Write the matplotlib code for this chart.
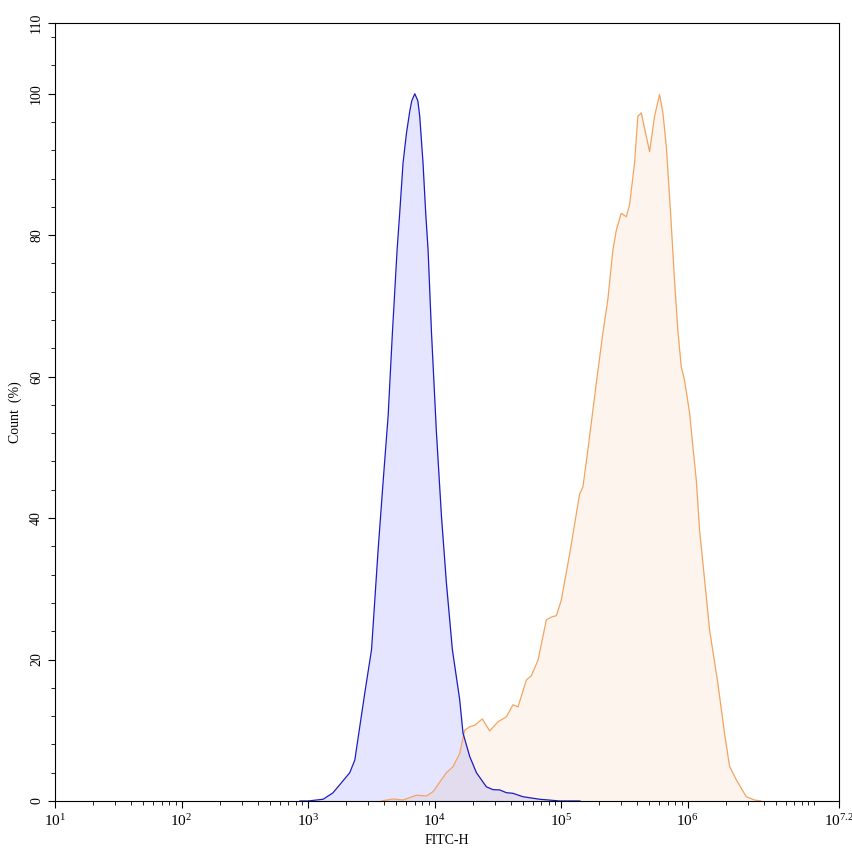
import numpy as np
import matplotlib
matplotlib.use("Agg")
import matplotlib.pyplot as plt
from matplotlib.ticker import FixedLocator, FixedFormatter, MultipleLocator

plt.rcParams['font.family'] = ['Liberation Serif', 'DejaVu Serif']
plt.rcParams['mathtext.fontset'] = 'custom'
plt.rcParams['mathtext.rm'] = 'Liberation Serif'
plt.rcParams['mathtext.it'] = 'Liberation Serif:italic'
plt.rcParams['mathtext.bf'] = 'Liberation Serif:bold'

# control histogram (blue), log10 of FITC-H and count (%)
blue_logx = [2.935, 3.001, 3.119, 3.196, 3.265, 3.330, 3.370, 3.409, 3.449, 3.502,
             3.554, 3.593, 3.633, 3.667, 3.704, 3.725, 3.751, 3.778, 3.804, 3.820,
             3.844, 3.868, 3.883, 3.909, 3.930, 3.949, 3.976, 4.015, 4.055, 4.094,
             4.141, 4.199, 4.225, 4.278, 4.331, 4.410, 4.462, 4.515, 4.568, 4.620,
             4.699, 4.831, 4.989, 5.15]
blue_count = [0, 0, 0.24, 1.13, 2.6, 4.0, 5.8, 10.5, 15.3, 21.4,
              35.5, 45.0, 54.4, 66.2, 77.9, 83.2, 90.2, 94.4, 97.5, 99.0,
              100, 99.0, 96.8, 90.2, 83.2, 77.9, 66.2, 52.1, 40.2, 30.8,
              21.4, 14.3, 9.6, 6.3, 4.0, 2.0, 1.6, 1.56, 1.17, 1.08,
              0.6, 0.24, 0, 0]

# stained sample (orange)
orange_logx = [3.581, 3.672, 3.751, 3.857, 3.936, 3.988, 4.094, 4.146, 4.199, 4.238,
               4.278, 4.318, 4.378, 4.436, 4.502, 4.568, 4.620, 4.660, 4.726, 4.765,
               4.818, 4.884, 4.923, 4.963, 5.002, 5.068, 5.147, 5.173, 5.212, 5.279,
               5.331, 5.370, 5.410, 5.437, 5.476, 5.516, 5.542, 5.581, 5.607, 5.634,
               5.700, 5.739, 5.779, 5.805, 5.832, 5.866, 5.897, 5.923, 5.950, 5.976,
               6.016, 6.042, 6.069, 6.095, 6.121, 6.148, 6.174, 6.239, 6.292, 6.332,
               6.385, 6.464, 6.529, 6.582]
orange_count = [0, 0.28, 0.14, 0.81, 0.71, 1.31, 4.0, 4.85, 6.7, 10.0,
                10.5, 10.7, 11.6, 9.9, 11.2, 11.9, 13.6, 13.3, 17.1, 17.7,
                19.9, 25.6, 26.0, 26.2, 28.4, 34.9, 43.4, 44.4, 49.6, 59.1,
                66.2, 70.9, 77.9, 80.7, 83.1, 82.6, 84.3, 90.2, 96.8, 97.3,
                91.8, 96.8, 99.9, 97.3, 92.6, 83.1, 73.6, 66.6, 61.4, 59.5,
                54.9, 50.1, 45.4, 38.3, 33.7, 28.9, 24.2, 16.7, 9.6, 4.9,
                3.0, 0.6, 0.14, 0]

x_major = [1, 2, 3, 4, 5, 6, 7.2]
x_labels = [r'$10^{1}$', r'$10^{2}$', r'$10^{3}$', r'$10^{4}$', r'$10^{5}$', r'$10^{6}$', r'$10^{7.2}$']
y_major = [0, 20, 40, 60, 80, 100, 110]

fig = plt.figure(figsize=(8.53, 8.56), dpi=100)
ax = fig.add_axes([0.0645, 0.0643, 0.9195, 0.9088])

bx = np.power(10.0, blue_logx)
ox = np.power(10.0, orange_logx)

ax.fill_between(ox, orange_count, 0, color='#f5a050', alpha=0.1, lw=0)
ax.fill_between(bx, blue_count, 0, color='#0000ff', alpha=0.1, lw=0)
ax.plot(ox, orange_count, color='#f2a461', lw=0.9)
ax.plot(bx, blue_count, color='#1c1cc0', lw=0.9)

ax.set_xscale('log')
ax.set_xlim(10, 10 ** 7.2)
ax.set_ylim(0, 110)

ax.xaxis.set_major_locator(FixedLocator([10 ** v for v in x_major]))
ax.xaxis.set_major_formatter(FixedFormatter(x_labels))
minor = [m * 10 ** d for d in range(1, 7) for m in range(2, 10)] + [1e7]
ax.xaxis.set_minor_locator(FixedLocator(minor))
ax.xaxis.set_minor_formatter(FixedFormatter([''] * len(minor)))

ax.yaxis.set_major_locator(FixedLocator(y_major))
ax.yaxis.set_minor_locator(MultipleLocator(4))

ax.tick_params(axis='x', which='major', direction='out', length=5, width=0.8,
               labelsize=11, top=False)
ax.tick_params(axis='y', which='major', direction='out', length=5, width=0.8,
               labelsize=10, right=False)
ax.tick_params(axis='both', which='minor', direction='out', length=3, width=0.6,
               top=False, right=False)
for lab in ax.get_yticklabels():
    lab.set_rotation(90)
    lab.set_va('center')

for sp in ax.spines.values():
    sp.set_linewidth(0.8)

ax.set_xlabel('FITC-H', fontsize=10, labelpad=4)
ax.set_ylabel('Count  (%)', fontsize=10, labelpad=6)

fig.savefig('out.png', dpi=100)
